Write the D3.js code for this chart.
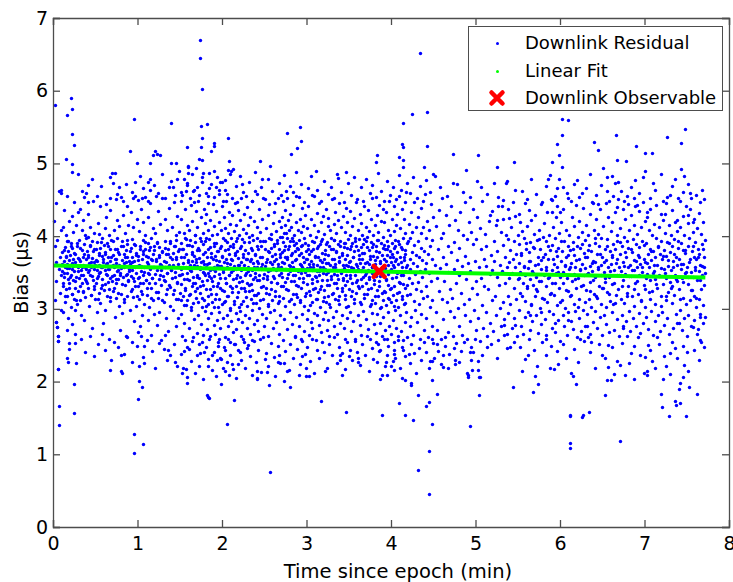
<!DOCTYPE html>
<html>
<head>
<meta charset="utf-8">
<script src="https://cdn.jsdelivr.net/npm/d3@7"></script>
<style>
  body { margin: 0; background: #fff; }
  svg { display: block; }
  text { font-family: "DejaVu Sans", sans-serif; fill: #000; }
</style>
</head>
<body>
<svg id="chart" width="733" height="582"></svg>
<script>
// Downlink residual bias samples [time since epoch (min), bias (µs)]
const residualsEarly = [
[0.01,4.21],[0.02,3.87],[0.02,3.12],[0.03,3.64],[0.03,4.45],[0.04,2.82],[0.04,3.38],[0.05,2.75],[0.05,3.95],[0.06,2.63],[0.06,2.56],[0.06,2.17],[0.07,3.55],[0.07,4.62],[0.08,3.22],[0.08,3.71],[0.09,2.98],[0.09,4.08],[0.1,3.46],
[0.11,3.52],[0.11,3.78],[0.12,3.31],[0.12,4.12],[0.12,2.95],[0.13,3.66],[0.13,3.44],[0.13,4.36],[0.14,3.58],[0.14,3.09],[0.14,3.85],[0.15,3.27],[0.15,3.71],[0.15,4.02],[0.16,3.49],[0.16,2.71],[0.16,3.93],[0.17,3.62],[0.17,3.18],[0.17,4.55],[0.18,3.41],[0.18,3.80],[0.18,2.88],[0.19,3.56],[0.19,4.21],[0.19,3.35],[0.2,3.74],
[0.21,3.47],[0.21,3.91],[0.21,3.02],[0.22,3.63],[0.22,4.28],[0.22,3.21],[0.23,3.55],[0.23,3.84],[0.23,2.79],[0.24,3.39],[0.24,4.06],[0.24,3.68],[0.25,3.14],[0.25,3.52],[0.25,4.47],[0.26,3.76],[0.26,3.29],[0.26,2.98],[0.27,3.61],[0.27,4.15],[0.27,3.44],[0.28,3.87],[0.28,3.07],[0.29,3.58],[0.29,4.33],[0.29,3.25],[0.3,3.70],
[0.31,3.42],[0.31,3.95],[0.32,3.66],[0.32,3.12],[0.32,4.38],[0.33,3.54],[0.33,2.92],[0.34,3.81],[0.34,3.35],[0.34,4.09],[0.35,3.60],[0.35,3.23],[0.36,3.72],[0.36,4.22],[0.36,3.47],[0.37,2.84],[0.37,3.89],[0.38,3.57],[0.38,3.16],[0.38,4.01],[0.39,3.69],[0.39,3.38],[0.4,3.79],
[0.41,3.51],[0.41,3.99],[0.42,3.28],[0.42,3.74],[0.42,4.31],[0.43,3.63],[0.43,3.04],[0.44,3.46],[0.44,3.86],[0.44,4.12],[0.45,3.58],[0.45,3.19],[0.46,3.70],[0.46,2.73],[0.46,3.93],[0.47,3.40],[0.47,4.48],[0.48,3.65],[0.48,3.31],[0.48,3.82],[0.49,3.55],[0.49,4.05],[0.5,3.13],
[0.51,3.67],[0.51,3.36],[0.52,3.92],[0.52,3.54],[0.52,2.96],[0.53,4.18],[0.53,3.45],[0.54,3.77],[0.54,3.22],[0.54,3.61],[0.55,4.03],[0.55,3.49],[0.56,3.84],[0.56,3.08],[0.56,4.42],[0.57,3.57],[0.57,3.29],[0.58,3.73],[0.58,3.97],[0.58,3.41],[0.59,2.81],[0.59,3.64],[0.6,3.88],
[0.61,3.53],[0.61,4.11],[0.62,3.34],[0.62,3.76],[0.62,2.99],[0.63,3.62],[0.63,4.26],[0.64,3.47],[0.64,3.90],[0.64,3.18],[0.65,3.71],[0.65,3.55],[0.66,4.02],[0.66,3.27],[0.66,2.58],[0.67,3.66],[0.67,3.83],[0.68,3.43],[0.68,4.36],[0.68,3.11],[0.69,3.59],[0.69,3.95],[0.7,3.38],
[0.71,3.74],[0.71,3.25],[0.72,3.58],[0.72,4.08],[0.72,3.46],[0.73,2.89],[0.73,3.82],[0.74,3.63],[0.74,4.51],[0.74,3.35],[0.75,3.69],[0.75,3.15],[0.76,3.97],[0.76,3.52],[0.76,4.22],[0.77,3.41],[0.77,3.78],[0.78,3.04],[0.78,3.60],[0.78,4.14],[0.79,3.49],[0.79,2.71],[0.8,3.86],
[0.81,3.56],[0.81,3.21],[0.82,3.93],[0.82,3.67],[0.82,2.94],[0.83,4.29],[0.83,3.44],[0.84,3.75],[0.84,3.09],[0.84,3.58],[0.85,4.05],[0.85,3.33],[0.86,3.81],[0.86,2.62],[0.86,3.64],[0.87,4.41],[0.87,3.48],[0.88,3.18],[0.88,3.89],[0.88,3.71],[0.89,3.39],[0.89,4.16],[0.9,3.55],
[0.91,3.62],[0.91,2.98],[0.92,3.84],[0.92,3.45],[0.92,4.33],[0.93,3.27],[0.93,3.71],[0.94,2.54],[0.94,3.96],[0.94,3.53],[0.95,3.16],[0.95,4.12],[0.96,3.66],[0.96,3.38],[0.96,2.83],[0.97,3.88],[0.97,4.55],[0.98,3.49],[0.98,3.04],[0.98,3.77],[0.99,3.59],[0.99,4.24],[1.0,3.31],[1.0,2.68],
[1.01,3.73],[1.01,3.42],[1.02,4.07],[1.02,3.14],[1.02,3.61],[1.03,2.76],[1.03,3.87],[1.04,3.52],[1.04,4.38],[1.04,3.25],[1.05,3.68],[1.05,2.91],[1.06,3.95],[1.06,3.46],[1.06,4.19],[1.07,3.35],[1.07,3.79],[1.08,3.07],[1.08,3.57],[1.08,2.49],[1.09,3.83],[1.09,4.02],[1.1,3.39],
[1.11,3.64],[1.11,3.19],[1.12,3.91],[1.12,3.50],[1.12,2.85],[1.13,4.27],[1.13,3.72],[1.14,3.36],[1.14,3.02],[1.14,3.81],[1.15,4.46],[1.15,3.55],[1.16,3.28],[1.16,3.98],[1.16,2.64],[1.17,3.67],[1.17,3.43],[1.18,4.11],[1.18,3.12],[1.18,3.76],[1.19,3.58],[1.19,2.93],[1.2,3.86],
[1.21,3.48],[1.21,4.04],[1.22,3.23],[1.22,3.69],[1.23,2.78],[1.23,3.92],[1.24,3.57],[1.24,4.34],[1.24,3.15],[1.25,3.74],[1.25,3.41],[1.26,2.96],[1.26,3.85],[1.27,3.62],[1.27,4.17],[1.28,3.33],[1.28,3.53],[1.28,2.57],[1.29,3.79],[1.29,4.52],[1.3,3.45],
[1.31,3.66],[1.31,3.09],[1.32,3.94],[1.32,3.38],[1.33,4.23],[1.33,3.57],[1.34,2.87],[1.34,3.75],[1.34,3.21],[1.35,4.08],[1.35,3.49],[1.36,3.83],[1.36,2.69],[1.37,3.61],[1.37,4.39],[1.38,3.30],[1.38,3.72],[1.39,3.04],[1.39,3.90],[1.4,3.54],
[1.41,3.42],[1.41,4.13],[1.42,3.77],[1.42,2.99],[1.42,3.59],[1.43,4.47],[1.43,3.26],[1.44,3.86],[1.44,3.51],[1.45,2.77],[1.45,4.01],[1.45,3.68],[1.46,3.14],[1.46,3.95],[1.47,3.37],[1.47,4.28],[1.48,3.62],[1.48,2.88],[1.48,3.80],[1.49,3.47],[1.49,4.06],[1.5,3.22]
];

const residualsMid = [
[1.51,3.55],[1.51,3.91],[1.51,2.93],[1.52,3.34],[1.52,4.24],[1.52,3.71],[1.53,2.62],[1.53,3.48],[1.53,4.57],[1.54,3.82],[1.54,3.17],[1.54,3.63],[1.55,4.05],[1.55,2.81],[1.55,3.41],[1.56,3.97],[1.56,3.26],[1.56,4.38],[1.57,3.58],[1.57,3.05],[1.57,3.76],[1.58,2.47],[1.58,4.16],[1.58,3.50],[1.59,3.88],[1.59,3.12],[1.59,4.71],[1.6,3.67],
[1.61,3.39],[1.61,4.09],[1.61,2.74],[1.62,3.61],[1.62,3.95],[1.62,3.20],[1.63,4.43],[1.63,3.52],[1.63,2.98],[1.64,3.78],[1.64,3.31],[1.64,4.21],[1.65,3.66],[1.65,2.56],[1.65,3.87],[1.66,3.44],[1.66,4.62],[1.66,3.08],[1.67,3.73],[1.67,3.57],[1.67,2.86],[1.68,4.02],[1.68,3.36],[1.68,3.92],[1.69,3.15],[1.69,4.34],[1.69,3.64],[1.7,2.67],[1.7,3.81],[1.7,3.47],
[1.71,4.12],[1.71,3.28],[1.71,3.59],[1.72,2.91],[1.72,3.84],[1.72,4.49],[1.73,3.42],[1.73,3.70],[1.73,2.52],[1.74,3.97],[1.74,3.22],[1.74,3.55],[1.75,4.27],[1.75,2.79],[1.75,3.65],[1.76,3.38],[1.76,4.74],[1.76,3.03],[1.77,3.89],[1.77,3.51],[1.77,4.05],[1.78,2.64],[1.78,3.33],[1.78,3.76],[1.79,4.38],[1.79,3.12],[1.79,3.62],[1.8,2.97],[1.8,3.93],[1.8,3.46],[1.8,4.18],[1.79,2.41],
[1.81,3.58],[1.81,3.04],[1.81,4.31],[1.82,3.71],[1.82,2.72],[1.82,3.39],[1.83,4.08],[1.83,3.49],[1.83,2.88],[1.84,3.83],[1.84,3.17],[1.84,4.55],[1.85,3.63],[1.85,2.59],[1.85,3.96],[1.86,3.27],[1.86,3.54],[1.86,4.22],[1.87,2.94],[1.87,3.77],[1.87,3.42],[1.88,4.01],[1.88,3.09],[1.88,2.36],[1.89,3.68],[1.89,4.44],[1.89,3.31],[1.9,3.86],[1.9,2.78],[1.9,3.57],[1.85,4.66],[1.83,2.21],
[1.91,3.45],[1.91,4.14],[1.91,3.02],[1.92,3.73],[1.92,2.65],[1.92,3.52],[1.93,4.35],[1.93,3.21],[1.93,3.90],[1.94,2.84],[1.94,3.61],[1.94,4.03],[1.95,3.36],[1.95,2.49],[1.95,3.79],[1.96,4.58],[1.96,3.13],[1.96,3.66],[1.97,2.96],[1.97,3.48],[1.97,4.20],[1.98,3.84],[1.98,2.73],[1.98,3.29],[1.99,3.59],[1.99,4.09],[1.99,2.31],[2.0,3.71],[2.0,3.06],[2.0,4.42],[1.96,2.58],[1.93,4.68],
[2.01,3.54],[2.01,2.87],[2.01,3.97],[2.02,3.25],[2.02,4.26],[2.02,3.64],[2.03,2.61],[2.03,3.43],[2.03,3.81],[2.04,4.11],[2.04,3.11],[2.04,2.44],[2.05,3.69],[2.05,3.35],[2.05,4.49],[2.06,2.92],[2.06,3.58],[2.06,3.92],[2.07,3.18],[2.07,4.04],[2.07,2.76],[2.08,3.76],[2.08,3.47],[2.08,4.33],[2.09,2.99],[2.09,3.62],[2.09,2.54],[2.1,3.87],[2.1,3.31],[2.1,4.17],[2.04,4.63],[2.06,2.27],
[2.11,3.51],[2.11,2.83],[2.11,3.98],[2.12,3.23],[2.12,3.67],[2.12,4.29],[2.13,2.68],[2.13,3.41],[2.13,3.85],[2.14,3.07],[2.14,4.07],[2.14,3.59],[2.15,2.51],[2.15,3.74],[2.15,4.46],[2.16,3.32],[2.16,2.94],[2.16,3.93],[2.17,3.55],[2.17,4.15],[2.17,2.72],[2.18,3.80],[2.18,3.16],[2.18,3.47],[2.19,4.36],[2.19,2.86],[2.19,3.70],[2.2,3.02],[2.2,3.61],[2.2,4.01],
[2.21,3.44],[2.21,2.97],[2.21,4.22],[2.22,3.65],[2.22,2.63],[2.22,3.86],[2.23,3.29],[2.23,4.53],[2.23,3.53],[2.24,2.82],[2.24,3.96],[2.24,3.38],[2.25,4.10],[2.25,3.11],[2.25,3.72],[2.26,2.55],[2.26,3.60],[2.26,4.31],[2.27,3.24],[2.27,3.81],[2.27,2.91],[2.28,3.49],[2.28,4.04],[2.28,3.68],[2.29,3.04],[2.29,4.40],[2.29,3.36],[2.3,2.74],
[2.31,3.77],[2.31,3.57],[2.31,4.16],[2.32,2.88],[2.32,3.33],[2.32,3.92],[2.33,3.46],[2.33,2.66],[2.33,4.27],[2.34,3.69],[2.34,3.13],[2.34,3.84],[2.35,4.48],[2.35,2.99],[2.35,3.54],[2.36,3.26],[2.36,4.01],[2.36,2.57],[2.37,3.63],[2.37,3.41],[2.37,3.95],[2.38,2.79],[2.38,4.21],[2.38,3.19],[2.39,3.75],[2.39,3.50],[2.39,4.62],[2.4,3.08],
[2.41,3.66],[2.41,3.98],[2.41,2.84],[2.42,3.39],[2.42,4.13],[2.42,3.58],[2.43,2.69],[2.43,3.82],[2.43,3.22],[2.44,4.37],[2.44,3.47],[2.44,3.01],[2.45,3.71],[2.45,4.06],[2.45,2.59],[2.46,3.30],[2.46,3.87],[2.46,3.55],[2.47,4.24],[2.47,2.93],[2.47,3.62],[2.48,3.14],[2.48,3.94],[2.49,3.43],[2.49,4.52],[2.5,2.76],
[2.51,3.59],[2.51,3.93],[2.52,3.28],[2.52,4.11],[2.52,2.87],[2.53,3.68],[2.53,3.45],[2.54,4.29],[2.54,3.06],[2.54,3.79],[2.55,2.63],[2.55,3.52],[2.56,3.97],[2.56,3.21],[2.56,4.44],[2.57,3.64],[2.57,2.95],[2.58,3.84],[2.58,3.37],[2.58,4.03],[2.59,3.12],[2.59,3.73],[2.6,2.74],[2.6,3.56],[2.6,4.18],
[2.61,3.42],[2.61,3.89],[2.62,2.99],[2.62,3.66],[2.62,4.33],[2.63,3.25],[2.63,3.76],[2.64,2.82],[2.64,4.07],[2.64,3.53],[2.65,3.35],[2.65,3.95],[2.66,4.52],[2.66,3.08],[2.66,3.62],[2.67,2.66],[2.67,3.83],[2.68,3.47],[2.68,4.21],[2.68,3.17],[2.69,3.72],[2.69,3.99],[2.69,2.91],[2.7,3.58],[2.7,4.12],[2.7,3.31],
[2.71,3.78],[2.71,4.26],[2.71,3.44],[2.72,3.92],[2.72,3.15],[2.72,4.48],[2.73,3.63],[2.73,2.86],[2.73,4.05],[2.74,3.71],[2.74,3.37],[2.74,4.36],[2.75,3.86],[2.75,3.04],[2.75,4.15],[2.76,3.55],[2.76,4.62],[2.76,3.27],[2.77,3.97],[2.77,3.69],[2.77,2.72],[2.78,4.22],[2.78,3.48],[2.78,3.83],[2.79,3.11],[2.79,4.09],[2.79,3.60],[2.8,3.93],
[2.81,3.52],[2.81,4.31],[2.81,2.96],[2.82,3.74],[2.82,3.38],[2.82,4.12],[2.83,3.65],[2.83,2.79],[2.83,3.98],[2.84,3.21],[2.84,4.43],[2.84,3.57],[2.85,3.88],[2.85,3.07],[2.85,4.02],[2.86,3.46],[2.86,2.61],[2.86,3.79],[2.87,4.19],[2.87,3.33],[2.87,3.68],[2.88,2.89],[2.88,3.91],[2.88,4.55],[2.89,3.54],[2.89,3.16],[2.9,3.82],[2.9,4.08],
[2.91,3.43],[2.91,2.77],[2.91,3.95],[2.92,3.62],[2.92,4.24],[2.92,3.12],[2.93,3.77],[2.93,3.49],[2.93,2.58],[2.94,4.06],[2.94,3.29],[2.94,3.86],[2.95,3.58],[2.95,4.39],[2.95,2.93],[2.96,3.71],[2.96,3.37],[2.96,4.14],[2.97,3.04],[2.97,3.64],[2.97,2.69],[2.98,3.91],[2.98,3.51],[2.98,4.29],[2.99,3.22],[2.99,3.80],[3.0,2.86],[3.0,3.56]
];

const residualsLate = [
[3.01,4.11],[3.01,3.34],[3.01,3.69],[3.02,2.98],[3.02,3.88],[3.02,4.41],[3.03,3.47],[3.03,2.64],[3.03,3.76],[3.04,3.19],[3.04,4.02],[3.04,3.58],[3.05,2.82],[3.05,3.66],[3.05,4.23],[3.06,3.41],[3.06,3.94],[3.06,3.09],[3.07,3.53],[3.07,4.57],[3.07,2.73],[3.08,3.82],[3.08,3.27],[3.08,3.62],[3.09,4.16],[3.09,2.94],[3.1,3.73],[3.1,3.45],
[3.11,3.99],[3.11,3.14],[3.11,2.57],[3.12,3.61],[3.12,4.32],[3.12,3.38],[3.13,3.84],[3.13,2.91],[3.13,3.52],[3.14,4.07],[3.14,3.23],[3.14,3.71],[3.15,2.78],[3.15,3.46],[3.15,4.46],[3.16,3.89],[3.16,3.02],[3.16,3.57],[3.17,4.19],[3.17,3.31],[3.17,2.68],[3.18,3.77],[3.18,3.64],[3.18,3.96],[3.19,3.11],[3.19,4.28],[3.2,3.49],[3.2,2.86],
[3.21,3.68],[3.21,4.03],[3.21,3.26],[3.22,2.95],[3.22,3.81],[3.22,3.55],[3.23,4.37],[3.23,3.09],[3.23,3.63],[3.24,2.71],[3.24,3.92],[3.24,3.40],[3.25,4.14],[3.25,3.17],[3.25,3.74],[3.26,2.84],[3.26,3.51],[3.26,4.25],[3.27,3.33],[3.27,3.86],[3.27,2.62],[3.28,3.60],[3.28,4.08],[3.28,3.03],[3.29,3.45],[3.29,3.97],[3.3,3.21],[3.3,4.51],
[3.31,3.57],[3.31,2.89],[3.31,3.83],[3.32,3.36],[3.32,4.17],[3.32,3.68],[3.33,2.76],[3.33,3.48],[3.33,3.95],[3.34,3.13],[3.34,4.33],[3.34,3.62],[3.35,2.97],[3.35,3.79],[3.35,4.04],[3.36,3.29],[3.36,3.54],[3.36,2.65],[3.37,3.89],[3.37,4.22],[3.37,3.41],[3.38,3.06],[3.38,3.72],[3.38,4.45],[3.39,3.18],[3.39,3.65],[3.4,2.81],[3.4,3.93],
[3.41,3.50],[3.41,4.12],[3.42,3.24],[3.42,3.77],[3.42,2.92],[3.43,3.61],[3.43,4.28],[3.43,3.39],[3.44,2.74],[3.44,3.85],[3.44,3.56],[3.45,4.06],[3.45,3.14],[3.45,3.68],[3.46,2.59],[3.46,3.91],[3.46,3.33],[3.47,4.39],[3.47,3.47],[3.47,3.02],[3.48,3.74],[3.48,4.19],[3.48,2.87],[3.49,3.59],[3.49,3.96],[3.5,3.27],
[3.51,3.66],[3.51,4.02],[3.51,2.95],[3.52,3.43],[3.52,3.82],[3.52,4.34],[3.53,3.17],[3.53,3.58],[3.53,2.69],[3.54,3.91],[3.54,3.35],[3.54,4.14],[3.55,3.71],[3.55,2.83],[3.55,3.52],[3.56,4.25],[3.56,3.08],[3.56,3.79],[3.57,3.46],[3.57,3.98],[3.57,2.56],[3.58,3.62],[3.58,4.47],[3.58,3.22],[3.59,3.87],[3.6,3.39],
[3.61,3.55],[3.61,2.91],[3.61,4.09],[3.62,3.74],[3.62,3.28],[3.62,3.96],[3.63,2.78],[3.63,3.63],[3.63,4.31],[3.64,3.41],[3.64,3.85],[3.64,3.07],[3.65,4.18],[3.65,3.52],[3.65,2.64],[3.66,3.69],[3.66,4.02],[3.66,3.31],[3.67,3.89],[3.67,2.97],[3.67,3.58],[3.68,4.41],[3.68,3.15],[3.68,3.77],[3.69,3.46],[3.7,3.93],
[3.71,3.36],[3.71,4.13],[3.71,2.86],[3.72,3.64],[3.72,3.99],[3.72,3.21],[3.73,4.36],[3.73,3.53],[3.73,2.72],[3.74,3.81],[3.74,3.44],[3.74,4.07],[3.75,3.04],[3.75,3.68],[3.75,2.58],[3.76,3.92],[3.76,3.29],[3.76,4.24],[3.77,3.57],[3.77,3.85],[3.77,2.94],[3.78,3.49],[3.78,4.52],[3.78,3.12],[3.79,3.73],[3.79,4.01],[3.8,3.39],[3.8,2.79],
[3.81,3.62],[3.81,4.15],[3.81,3.08],[3.82,3.87],[3.82,2.67],[3.82,3.45],[3.83,4.29],[3.83,3.26],[3.83,3.71],[3.84,2.93],[3.84,3.95],[3.84,3.54],[3.85,4.06],[3.85,3.17],[3.85,2.52],[3.86,3.78],[3.86,3.38],[3.86,4.43],[3.87,3.01],[3.87,3.66],[3.87,2.81],[3.88,3.91],[3.88,3.49],[3.88,4.21],[3.89,3.22],[3.89,3.58],[3.89,2.62],[3.9,3.84],[3.9,3.12],[3.9,4.37],
[3.91,3.47],[3.91,2.89],[3.91,3.99],[3.92,3.68],[3.92,3.24],[3.92,4.19],[3.93,2.71],[3.93,3.56],[3.93,3.82],[3.94,3.05],[3.94,4.33],[3.94,3.41],[3.95,3.74],[3.95,2.58],[3.95,3.93],[3.96,3.15],[3.96,4.08],[3.96,3.61],[3.97,2.96],[3.97,3.87],[3.97,3.33],[3.98,4.49],[3.98,3.52],[3.98,2.77],[3.99,3.79],[3.99,3.27],[3.99,4.02],[4.0,2.66],[4.0,3.64],[4.0,3.09],
[4.01,3.91],[4.01,3.42],[4.01,4.24],[4.02,2.84],[4.02,3.71],[4.02,3.19],[4.03,4.07],[4.03,3.57],[4.03,2.54],[4.04,3.84],[4.04,3.31],[4.04,4.42],[4.05,2.98],[4.05,3.66],[4.05,3.95],[4.06,3.12],[4.06,4.16],[4.06,2.73],[4.07,3.49],[4.07,3.78],[4.07,4.31],[4.08,3.03],[4.08,3.62],[4.08,2.63],[4.09,3.89],[4.09,3.37],[4.1,4.55],[4.1,3.23],
[4.11,3.72],[4.11,2.91],[4.11,4.11],[4.12,3.46],[4.12,3.85],[4.12,2.69],[4.13,3.58],[4.13,4.38],[4.13,3.14],[4.14,3.97],[4.14,3.34],[4.14,2.57],[4.15,3.67],[4.15,4.23],[4.15,3.06],[4.16,3.81],[4.16,3.52],[4.16,2.82],[4.17,4.04],[4.17,3.28],[4.17,3.75],[4.18,4.61],[4.18,2.96],[4.19,3.61],[4.19,3.19],[4.2,3.94],
[4.21,3.43],[4.21,4.17],[4.22,2.76],[4.22,3.69],[4.22,3.97],[4.23,3.21],[4.23,3.55],[4.24,4.33],[4.24,2.89],[4.25,3.78],[4.25,3.36],[4.25,4.06],[4.26,2.64],[4.26,3.63],[4.27,3.11],[4.27,3.88],[4.27,4.47],[4.28,3.48],[4.28,2.98],[4.29,3.74],[4.29,4.12],[4.3,3.27],
[4.31,3.59],[4.31,2.82],[4.32,3.93],[4.32,3.37],[4.32,4.26],[4.33,3.07],[4.33,3.71],[4.34,2.59],[4.34,3.52],[4.35,4.04],[4.35,3.24],[4.35,3.84],[4.36,2.93],[4.36,4.39],[4.37,3.44],[4.37,3.67],[4.38,3.15],[4.38,4.13],[4.39,2.71],[4.39,3.79],[4.4,3.55],[4.4,4.58],
[4.41,3.32],[4.41,3.98],[4.42,2.87],[4.42,3.63],[4.43,4.21],[4.43,3.18],[4.44,3.76],[4.44,2.61],[4.45,3.49],[4.45,4.08],[4.46,3.02],[4.46,3.87],[4.47,4.44],[4.47,3.38],[4.48,2.76],[4.48,3.69],[4.49,3.95],[4.49,3.12],[4.5,4.27],[4.5,2.53]
];

const residualsSparse = [
[4.52,3.61],[4.53,2.95],[4.53,4.14],[4.54,3.42],[4.55,2.71],[4.56,3.83],[4.57,3.24],[4.57,4.36],[4.58,3.56],[4.59,2.58],[4.59,3.97],[4.6,3.13],[4.6,4.52],[4.56,2.42],
[4.61,3.71],[4.62,2.86],[4.62,4.05],[4.63,3.38],[4.64,2.49],[4.65,3.62],[4.65,4.29],[4.66,3.09],[4.67,3.87],[4.68,2.68],[4.68,3.51],[4.69,4.16],[4.7,3.27],[4.7,2.97],
[4.71,3.78],[4.71,4.41],[4.72,3.15],[4.73,2.62],[4.74,3.55],[4.74,3.92],[4.75,2.89],[4.76,4.22],[4.77,3.36],[4.77,2.53],[4.78,3.67],[4.79,4.08],[4.79,3.01],[4.8,3.46],
[4.81,2.77],[4.81,3.84],[4.82,4.33],[4.83,3.22],[4.84,3.59],[4.84,2.64],[4.85,4.01],[4.86,3.07],[4.87,3.73],[4.87,4.47],[4.88,2.91],[4.89,3.41],[4.9,3.96],[4.9,2.58],
[4.91,3.63],[4.92,4.19],[4.92,3.14],[4.93,2.83],[4.94,3.52],[4.95,4.06],[4.95,2.47],[4.96,3.29],[4.97,3.89],[4.97,4.38],[4.98,2.99],[4.99,3.66],[5.0,3.38],[5.0,2.71],
[5.01,3.96],[5.02,3.21],[5.02,4.27],[5.03,2.88],[5.04,3.57],[5.05,4.11],[5.05,2.56],[5.06,3.43],[5.07,3.82],[5.08,3.05],[5.08,4.49],[5.09,2.74],[5.1,3.68],[5.1,3.31],
[5.11,4.03],[5.12,2.96],[5.13,3.59],[5.13,3.86],[5.14,2.63],[5.15,3.27],[5.16,4.21],[5.17,3.48],[5.17,2.81],[5.18,3.74],[5.19,3.12],[5.2,4.35],[5.2,3.53],
[5.21,2.69],[5.22,3.66],[5.22,3.93],[5.23,3.18],[5.24,4.15],[5.24,2.92],[5.25,3.44],[5.26,3.79],[5.27,2.57],[5.27,4.42],[5.28,3.33],[5.29,3.61],[5.29,3.01],[5.3,4.06],[5.3,2.77],
[5.31,3.52],[5.32,3.88],[5.32,3.09],[5.33,4.24],[5.34,2.86],[5.35,3.71],[5.35,3.36],[5.36,4.01],[5.37,2.65],[5.37,3.58],[5.38,3.96],[5.38,3.17],[5.39,4.37],[5.39,2.94],[5.4,3.64],[5.4,3.42],
[5.41,3.81],[5.41,3.06],[5.42,4.12],[5.43,3.49],[5.43,2.73],[5.44,3.69],[5.45,3.28],[5.45,3.93],[5.46,2.87],[5.47,4.28],[5.47,3.57],[5.48,3.14],[5.48,3.76],[5.49,2.62],[5.5,4.02],[5.5,3.41]
];

const residualsTail = [
[5.51,3.63],[5.51,2.98],[5.52,3.89],[5.52,4.31],[5.53,3.22],[5.53,3.51],[5.54,2.76],[5.54,3.74],[5.55,4.07],[5.56,3.36],[5.56,2.66],[5.57,3.59],[5.57,3.97],[5.58,3.11],[5.58,4.45],[5.59,3.47],[5.59,2.89],[5.6,3.82],
[5.61,3.28],[5.61,4.14],[5.62,3.56],[5.62,2.95],[5.63,3.78],[5.63,4.36],[5.64,3.41],[5.64,2.71],[5.65,3.66],[5.65,3.92],[5.66,3.06],[5.66,4.22],[5.67,3.52],[5.67,2.83],[5.68,3.85],[5.68,3.33],[5.69,4.03],[5.7,3.17],
[5.71,3.61],[5.71,4.29],[5.72,2.91],[5.72,3.44],[5.73,3.95],[5.73,3.24],[5.74,2.67],[5.74,3.72],[5.75,4.09],[5.75,3.38],[5.76,3.01],[5.76,3.83],[5.77,4.44],[5.77,3.55],[5.78,2.79],[5.78,3.67],[5.79,3.15],[5.8,3.99],
[5.81,3.47],[5.81,4.18],[5.82,2.86],[5.82,3.76],[5.83,3.31],[5.83,3.93],[5.84,2.59],[5.84,3.58],[5.85,4.33],[5.85,3.09],[5.86,3.69],[5.86,3.42],[5.87,4.02],[5.87,2.97],[5.88,3.81],[5.88,3.21],[5.89,4.51],[5.9,3.54],[5.9,2.74],
[5.91,3.88],[5.91,3.35],[5.92,4.13],[5.92,2.93],[5.93,3.62],[5.93,3.19],[5.94,3.97],[5.94,2.68],[5.95,3.49],[5.95,4.26],[5.96,3.73],[5.96,3.05],[5.97,3.57],[5.97,4.41],[5.98,2.84],[5.98,3.84],[5.99,3.28],[5.99,4.04],[6.0,3.44],[6.0,2.56],
[6.01,3.66],[6.01,4.19],[6.02,3.12],[6.02,3.79],[6.03,2.91],[6.03,3.51],[6.04,4.37],[6.04,3.36],[6.05,2.77],[6.05,3.94],[6.06,3.59],[6.06,3.01],[6.07,4.08],[6.07,3.71],[6.08,2.64],[6.08,3.43],[6.09,3.86],[6.09,4.53],[6.1,3.24],[6.1,2.95],
[6.11,3.55],[6.11,4.02],[6.12,3.17],[6.12,3.81],[6.13,2.83],[6.13,3.63],[6.14,4.27],[6.14,3.38],[6.15,2.72],[6.15,3.92],[6.16,3.48],[6.16,3.07],[6.17,4.14],[6.17,3.74],[6.18,2.97],[6.18,3.58],[6.19,4.43],[6.19,3.29],[6.2,3.87],[6.2,2.61],
[6.21,3.42],[6.21,3.99],[6.22,3.14],[6.22,3.69],[6.23,4.21],[6.23,2.88],[6.24,3.53],[6.24,3.84],[6.25,2.69],[6.25,3.31],[6.26,4.06],[6.26,3.62],[6.27,2.99],[6.27,4.39],[6.28,3.46],[6.28,3.77],[6.29,3.09],[6.29,2.77],[6.3,3.95],[6.3,3.56],
[6.31,4.16],[6.31,3.26],[6.32,3.71],[6.32,2.93],[6.33,3.49],[6.33,4.02],[6.34,3.13],[6.34,3.88],[6.35,2.66],[6.35,3.59],[6.36,4.31],[6.36,3.37],[6.37,3.03],[6.37,3.79],[6.38,4.47],[6.38,3.52],[6.39,2.82],[6.39,3.66],[6.4,3.21],[6.4,4.09],
[6.41,3.44],[6.41,3.91],[6.42,2.97],[6.42,3.64],[6.43,4.24],[6.43,3.18],[6.44,3.76],[6.44,2.73],[6.45,3.55],[6.45,4.03],[6.46,3.32],[6.46,3.86],[6.47,2.89],[6.47,4.38],[6.48,3.61],[6.48,3.07],[6.49,3.98],[6.49,3.47],[6.5,2.64],[6.5,3.72],
[6.51,3.28],[6.51,4.14],[6.52,3.51],[6.52,2.91],[6.53,3.83],[6.53,3.37],[6.54,4.46],[6.54,3.02],[6.55,3.67],[6.55,2.79],[6.56,3.96],[6.56,3.23],[6.57,3.58],[6.57,4.27],[6.58,2.68],[6.58,3.44],[6.59,3.79],[6.59,3.11],[6.6,4.07],[6.6,3.62],
[6.61,2.95],[6.61,3.71],[6.62,4.19],[6.62,3.34],[6.63,3.89],[6.63,3.06],[6.64,2.71],[6.64,3.54],[6.65,4.33],[6.65,3.82],[6.66,3.19],[6.66,3.63],[6.67,2.86],[6.67,4.02],[6.68,3.47],[6.68,3.94],[6.69,3.27],[6.69,4.51],[6.7,3.58],[6.7,2.62],
[6.71,3.76],[6.71,4.11],[6.72,3.13],[6.72,3.52],[6.73,2.92],[6.73,3.87],[6.74,4.37],[6.74,3.39],[6.75,2.74],[6.75,3.65],[6.76,3.99],[6.76,3.08],[6.77,3.48],[6.77,4.23],[6.78,2.83],[6.78,3.71],[6.79,3.22],[6.79,3.93],[6.8,4.44],[6.8,3.57],
[6.81,3.31],[6.81,3.84],[6.82,2.97],[6.82,4.08],[6.83,3.61],[6.83,2.69],[6.84,3.45],[6.84,4.29],[6.85,3.17],[6.85,3.78],[6.86,2.88],[6.86,3.96],[6.87,3.53],[6.87,4.16],[6.88,3.04],[6.88,3.67],[6.89,4.41],[6.89,3.36],[6.9,2.76],[6.9,3.89],
[6.91,3.58],[6.91,4.03],[6.92,3.21],[6.92,3.74],[6.93,2.94],[6.93,4.34],[6.94,3.46],[6.94,3.85],[6.95,2.67],[6.95,3.62],[6.96,4.12],[6.96,3.11],[6.97,3.51],[6.97,3.94],[6.98,2.81],[6.98,4.47],[6.99,3.33],[6.99,3.69],[7.0,3.02],[7.0,4.21],
[7.01,3.64],[7.01,3.27],[7.02,3.91],[7.02,2.89],[7.03,4.26],[7.03,3.48],[7.04,3.76],[7.04,2.72],[7.05,3.57],[7.05,4.09],[7.06,3.14],[7.06,3.83],[7.07,4.38],[7.07,3.39],[7.08,2.97],[7.08,3.67],[7.09,4.02],[7.09,3.24],[7.1,2.64],[7.1,3.79],
[7.11,3.52],[7.11,4.17],[7.12,3.06],[7.12,3.72],[7.13,3.41],[7.13,2.83],[7.14,3.97],[7.14,4.43],[7.15,3.29],[7.15,3.61],[7.16,2.92],[7.16,3.86],[7.17,4.13],[7.17,3.45],[7.18,2.69],[7.18,3.76],[7.19,3.18],[7.19,4.31],[7.2,3.56],[7.2,3.93],
[7.21,2.96],[7.21,3.68],[7.22,4.22],[7.22,3.34],[7.23,3.81],[7.23,2.78],[7.24,3.49],[7.24,4.04],[7.25,3.12],[7.25,3.73],[7.26,4.46],[7.26,3.42],[7.27,2.87],[7.27,3.92],[7.28,3.59],[7.28,3.23],[7.29,4.15],[7.29,2.66],[7.3,3.78],[7.3,3.37],
[7.31,4.01],[7.31,3.54],[7.32,3.08],[7.32,3.87],[7.33,4.36],[7.33,3.31],[7.34,2.74],[7.34,3.66],[7.35,3.96],[7.35,3.19],[7.36,3.47],[7.36,4.19],[7.37,2.93],[7.37,3.72],[7.38,3.38],[7.38,4.07],[7.39,2.81],[7.39,3.61],[7.4,3.84],[7.4,4.52],
[7.41,3.27],[7.41,3.69],[7.42,4.13],[7.42,2.99],[7.43,3.55],[7.43,3.91],[7.44,2.71],[7.44,3.43],[7.45,4.28],[7.45,3.81],[7.46,3.15],[7.46,3.62],[7.47,2.87],[7.47,4.02],[7.48,3.49],[7.48,3.77],[7.49,4.41],[7.49,3.06],[7.5,3.58],[7.5,2.63],
[7.51,3.86],[7.51,3.34],[7.52,4.18],[7.52,2.91],[7.53,3.64],[7.53,3.97],[7.54,3.12],[7.54,4.37],[7.55,3.51],[7.55,2.76],[7.56,3.79],[7.56,3.26],[7.57,4.06],[7.57,3.44],[7.58,2.84],[7.58,3.71],[7.59,4.24],[7.59,3.18],[7.6,3.57],[7.6,3.92],
[7.61,3.03],[7.61,3.68],[7.62,4.11],[7.62,3.39],[7.63,2.72],[7.63,3.83],[7.64,3.52],[7.64,4.32],[7.65,3.14],[7.65,3.76],[7.66,2.93],[7.66,3.61],[7.67,4.03],[7.67,3.27],[7.68,3.89],[7.68,3.46],[7.69,4.19],[7.69,2.81],[7.7,3.58],[7.7,3.71],[7.71,3.33],[7.72,3.95],[7.72,3.49]
];

// Samples packed close to the fit line
const residualsCore = [
[0.105,3.62],[0.115,3.35],[0.125,3.81],[0.135,3.49],[0.145,3.17],[0.155,3.73],[0.165,3.56],[0.175,3.94],[0.185,3.28],[0.195,3.67],
[0.205,3.44],[0.215,3.86],[0.225,3.21],[0.235,3.59],[0.245,3.77],[0.255,3.38],[0.265,3.65],[0.275,3.12],[0.285,3.91],[0.295,3.52],
[0.305,3.69],[0.315,3.31],[0.325,3.84],[0.335,3.47],[0.345,3.58],[0.355,3.24],[0.365,3.76],[0.375,3.41],[0.385,3.97],[0.395,3.55],
[0.405,3.36],[0.415,3.71],[0.425,3.53],[0.435,3.88],[0.445,3.19],[0.455,3.64],[0.465,3.45],[0.475,3.79],[0.485,3.27],[0.495,3.61],
[0.505,3.83],[0.515,3.42],[0.525,3.66],[0.535,3.14],[0.545,3.74],[0.555,3.51],[0.565,3.92],[0.575,3.33],[0.585,3.57],[0.595,3.69],
[0.605,3.26],[0.615,3.78],[0.625,3.48],[0.635,3.63],[0.645,3.87],[0.655,3.37],[0.665,3.55],[0.675,3.16],[0.685,3.72],[0.695,3.45],
[0.705,3.61],[0.715,3.93],[0.725,3.29],[0.735,3.68],[0.745,3.41],[0.755,3.82],[0.765,3.54],[0.775,3.22],[0.785,3.75],[0.795,3.47],
[0.805,3.58],[0.815,3.34],[0.825,3.86],[0.835,3.63],[0.845,3.13],[0.855,3.71],[0.865,3.46],[0.875,3.95],[0.885,3.38],[0.895,3.66],
[0.905,3.52],[0.915,3.79],[0.925,3.25],[0.935,3.64],[0.945,3.43],[0.955,3.89],[0.965,3.31],[0.975,3.57],[0.985,3.74],[0.995,3.18],
[1.005,3.67],[1.015,3.44],[1.025,3.83],[1.035,3.36],[1.045,3.59],[1.055,3.21],[1.065,3.76],[1.075,3.51],[1.085,3.92],[1.095,3.39],
[1.105,3.73],[1.115,3.28],[1.125,3.62],[1.135,3.48],[1.145,3.85],[1.155,3.15],[1.165,3.69],[1.175,3.42],[1.185,3.58],[1.195,3.81],
[1.205,3.35],[1.215,3.66],[1.225,3.54],[1.235,3.91],[1.245,3.23],[1.255,3.72],[1.265,3.46],[1.275,3.61],[1.285,3.12],[1.295,3.78],
[1.305,3.57],[1.315,3.39],[1.325,3.84],[1.335,3.65],[1.345,3.27],[1.355,3.49],[1.365,3.76],[1.375,3.33],[1.385,3.94],[1.395,3.53],
[1.405,3.68],[1.415,3.21],[1.425,3.61],[1.435,3.87],[1.445,3.44],[1.455,3.71],[1.465,3.36],[1.475,3.58],[1.485,3.14],[1.495,3.82],
[1.505,3.47],[1.515,3.12],[1.525,3.83],[1.535,3.58],[1.545,3.05],[1.555,3.71],[1.565,3.29],[1.575,3.96],[1.585,3.41],[1.595,3.64],
[1.605,3.19],[1.615,3.88],[1.625,3.53],[1.635,3.02],[1.645,3.76],[1.655,3.35],[1.665,3.61],[1.675,4.02],[1.685,3.24],[1.695,3.69],
[1.705,3.44],[1.715,3.09],[1.725,3.81],[1.735,3.57],[1.745,3.31],[1.755,3.93],[1.765,3.15],[1.775,3.66],[1.785,3.49],[1.795,3.78],
[1.805,3.27],[1.815,3.98],[1.825,3.62],[1.835,3.07],[1.845,3.45],[1.855,3.85],[1.865,3.21],[1.875,3.72],[1.885,3.38],[1.895,3.55],
[1.905,3.91],[1.915,3.14],[1.925,3.67],[1.935,3.32],[1.945,3.79],[1.955,3.03],[1.965,3.59],[1.975,3.43],[1.985,3.87],[1.995,3.26],
[2.005,3.73],[2.015,3.51],[2.025,3.09],[2.035,3.95],[2.045,3.36],[2.055,3.63],[2.065,3.18],[2.075,3.82],[2.085,3.47],[2.095,3.01],
[2.105,3.68],[2.115,3.29],[2.125,3.89],[2.135,3.54],[2.145,3.11],[2.155,3.77],[2.165,3.42],[2.175,3.97],[2.185,3.23],[2.195,3.61],
[2.205,3.37],[2.215,3.84],[2.225,3.06],[2.235,3.56],[2.245,3.75],[2.255,3.28],[2.265,3.92],[2.275,3.46],[2.285,3.16],[2.295,3.69],
[2.305,3.52],[2.315,3.99],[2.325,3.25],[2.335,3.66],[2.345,3.34],[2.355,3.81],[2.365,3.08],[2.375,3.58],[2.385,3.44],[2.395,3.74],
[2.405,3.19],[2.415,3.87],[2.425,3.63],[2.435,3.39],[2.445,3.94],[2.455,3.12],[2.465,3.57],[2.475,3.71],[2.485,3.31],[2.495,3.48],
[2.505,3.83],[2.515,3.22],[2.525,3.65],[2.535,3.41],[2.545,3.04],[2.555,3.78],[2.565,3.53],[2.575,3.96],[2.585,3.27],[2.595,3.62],
[2.605,3.45],[2.615,3.86],[2.625,3.17],[2.635,3.69],[2.645,3.35],[2.655,3.91],[2.665,3.58],[2.675,3.11],[2.685,3.76],[2.695,3.49],
[2.705,3.64],[2.715,3.99],[2.725,3.32],[2.735,3.81],[2.745,3.55],[2.755,4.05],[2.765,3.43],[2.775,3.72],[2.785,3.26],[2.795,3.87],
[2.805,3.59],[2.815,3.14],[2.825,3.77],[2.835,3.46],[2.845,3.93],[2.855,3.38],[2.865,3.67],[2.875,3.21],[2.885,3.84],[2.895,3.52],
[2.905,3.31],[2.915,3.74],[2.925,3.09],[2.935,3.61],[2.945,3.88],[2.955,3.42],[2.965,3.55],[2.975,3.97],[2.985,3.18],[2.995,3.68],
[3.005,3.47],[3.015,3.83],[3.025,3.24],[3.035,3.62],[3.045,3.05],[3.055,3.79],[3.065,3.36],[3.075,3.57],[3.085,3.92],[3.095,3.29],
[3.105,3.71],[3.115,3.44],[3.125,3.13],[3.135,3.86],[3.145,3.52],[3.155,3.67],[3.165,3.27],[3.175,3.94],[3.185,3.39],[3.195,3.58],
[3.205,3.16],[3.215,3.76],[3.225,3.48],[3.235,3.89],[3.245,3.33],[3.255,3.63],[3.265,3.07],[3.275,3.54],[3.285,3.82],[3.295,3.41],
[3.305,3.69],[3.315,3.22],[3.325,3.95],[3.335,3.57],[3.345,3.35],[3.355,3.78],[3.365,3.46],[3.375,3.12],[3.385,3.66],[3.395,3.87],
[3.405,3.53],[3.415,3.28],[3.425,3.74],[3.435,3.43],[3.445,3.91],[3.455,3.19],[3.465,3.61],[3.475,3.38],[3.485,3.84],[3.495,3.04],
[3.505,3.65],[3.515,3.47],[3.525,3.86],[3.535,3.25],[3.545,3.72],[3.555,3.56],[3.565,3.14],[3.575,3.93],[3.585,3.37],[3.595,3.59],
[3.605,3.81],[3.615,3.32],[3.625,3.68],[3.635,3.09],[3.645,3.54],[3.655,3.77],[3.665,3.44],[3.675,3.96],[3.685,3.21],[3.695,3.63],
[3.705,3.49],[3.715,3.85],[3.725,3.27],[3.735,3.62],[3.745,3.41],[3.755,3.73],[3.765,3.06],[3.775,3.58],[3.785,3.89],[3.795,3.34],
[3.805,3.67],[3.815,3.18],[3.825,3.79],[3.835,3.52],[3.845,3.95],[3.855,3.31],[3.865,3.63],[3.875,3.45],[3.885,3.02],[3.895,3.74],
[3.905,3.57],[3.915,3.88],[3.925,3.23],[3.935,3.66],[3.945,3.39],[3.955,3.82],[3.965,3.48],[3.975,3.13],[3.985,3.71],[3.995,3.55],
[4.005,3.29],[4.015,3.76],[4.025,3.61],[4.035,3.04],[4.045,3.87],[4.055,3.44],[4.065,3.69],[4.075,3.22],[4.085,3.93],[4.095,3.51],
[4.105,3.36],[4.115,3.64],[4.125,3.17],[4.135,3.83],[4.145,3.47],[4.155,3.72],[4.165,3.08],[4.175,3.58],[4.185,3.91],[4.195,3.33],
[5.515,3.42],[5.535,3.77],[5.555,3.18],[5.575,3.58],[5.595,3.91],[5.615,3.31],[5.635,3.66],[5.655,3.05],[5.675,3.49],[5.695,3.84],
[5.715,3.27],[5.735,3.62],[5.755,3.96],[5.775,3.38],[5.795,3.71],[5.815,3.14],[5.835,3.53],[5.855,3.87],[5.875,3.44],[5.895,3.22],
[5.915,3.68],[5.935,3.35],[5.955,3.79],[5.975,3.51],[5.995,3.09],[6.015,3.93],[6.035,3.46],[6.055,3.61],[6.075,3.26],[6.095,3.74],
[6.115,3.57],[6.135,3.19],[6.155,3.83],[6.175,3.41],[6.195,3.67],[6.215,3.02],[6.235,3.55],[6.255,3.89],[6.275,3.33],[6.295,3.72],
[6.315,3.48],[6.335,3.81],[6.355,3.24],[6.375,3.63],[6.395,3.39],[6.415,3.97],[6.435,3.15],[6.455,3.58],[6.475,3.76],[6.495,3.29],
[6.515,3.64],[6.535,3.43],[6.555,3.86],[6.575,3.21],[6.595,3.52],[6.615,3.74],[6.635,3.36],[6.655,3.08],[6.675,3.69],[6.695,3.47],
[6.715,3.92],[6.735,3.31],[6.755,3.59],[6.775,3.78],[6.795,3.17],[6.815,3.45],[6.835,3.83],[6.855,3.54],[6.875,3.27],[6.895,3.66],
[6.915,3.38],[6.935,3.71],[6.955,3.12],[6.975,3.57],[6.995,3.88],[7.015,3.42],[7.035,3.63],[7.055,3.23],[7.075,3.79],[7.095,3.49],
[7.115,3.61],[7.135,3.34],[7.155,3.85],[7.175,3.46],[7.195,3.04],[7.215,3.73],[7.235,3.55],[7.255,3.18],[7.275,3.67],[7.295,3.91],
[7.315,3.29],[7.335,3.58],[7.355,3.76],[7.375,3.41],[7.395,3.94],[7.415,3.13],[7.435,3.62],[7.455,3.37],[7.475,3.81],[7.495,3.51],
[7.515,3.44],[7.535,3.69],[7.555,3.26],[7.575,3.86],[7.595,3.53],[7.615,3.15],[7.635,3.72],[7.655,3.39],[7.675,3.59],[7.695,3.82]
];

// Samples in the lower and upper fringes of the band
const residualsFringe = [
[0.33,2.58],[0.38,2.41],[0.44,2.62],[0.49,2.35],[0.53,2.51],[0.58,2.66],[0.62,2.44],[0.69,2.29],[0.72,2.55],[0.77,2.47],[0.84,2.38],[0.88,2.61],[0.93,2.27],[0.99,2.49],[1.04,2.63],[1.07,2.34],[1.11,2.57],[1.17,2.42],[1.21,2.19],[1.26,2.53],[1.31,2.45],[1.33,2.64],[1.39,2.36],[1.43,2.52],[1.47,2.21],
[1.51,2.38],[1.54,2.19],[1.56,2.57],[1.58,2.06],[1.61,2.45],[1.63,2.28],[1.66,2.61],[1.68,2.12],[1.71,2.36],[1.73,2.22],[1.76,2.54],[1.78,2.03],[1.81,2.47],[1.84,2.31],[1.86,2.63],[1.88,2.16],[1.91,2.41],[1.93,2.08],[1.95,2.55],[1.98,2.33],
[2.02,2.48],[2.04,2.14],[2.07,2.59],[2.09,2.37],[2.12,2.24],[2.14,2.52],[2.17,2.05],[2.19,2.43],[2.22,2.29],[2.25,2.58],[2.27,2.18],[2.3,2.46],[2.33,2.35],[2.35,2.09],[2.38,2.56],[2.4,2.27],[2.43,2.44],[2.46,2.13],[2.48,2.61],
[2.52,2.39],[2.55,2.21],[2.58,2.53],[2.61,2.34],[2.63,2.07],[2.66,2.49],[2.69,2.26],[2.72,2.57],[2.75,2.42],[2.77,2.15],[2.81,2.51],[2.84,2.32],[2.86,2.63],[2.89,2.45],[2.92,2.24],[2.95,2.56],[2.98,2.38],
[3.01,2.47],[3.04,2.28],[3.07,2.59],[3.09,2.12],[3.12,2.43],[3.15,2.33],[3.18,2.55],[3.21,2.41],[3.24,2.19],[3.27,2.52],[3.3,2.36],[3.33,2.61],[3.36,2.26],[3.38,2.48],[3.42,2.39],[3.45,2.17],[3.48,2.54],
[3.51,2.44],[3.54,2.29],[3.57,2.58],[3.6,2.41],[3.63,2.23],[3.66,2.51],[3.69,2.37],[3.72,2.62],[3.74,2.14],[3.77,2.46],[3.79,2.31],[3.82,2.55],[3.84,2.27],[3.87,2.43],[3.89,2.09],[3.92,2.58],[3.95,2.36],[3.97,2.49],
[4.0,2.21],[4.03,2.44],[4.05,2.33],[4.08,2.57],[4.11,2.18],[4.13,2.47],[4.16,2.35],[4.19,2.61],[4.22,2.26],[4.24,2.51],[4.27,2.39],[4.3,2.12],[4.33,2.46],[4.36,2.29],[4.39,2.55],[4.42,2.41],[4.45,2.19],[4.48,2.59],
[4.51,2.33],[4.55,2.52],[4.59,2.24],[4.64,2.61],[4.69,2.38],[4.74,2.46],[4.8,2.27],[4.86,2.55],[4.93,2.41],[4.99,2.58],[5.08,2.36],[5.18,2.52],[5.26,2.33],[5.45,2.55],
[5.53,2.47],[5.58,2.31],[5.63,2.58],[5.69,2.43],[5.73,2.22],[5.79,2.55],[5.83,2.36],[5.89,2.49],[5.93,2.17],[6.03,2.51],[6.07,2.33],[6.16,2.45],[6.21,2.27],[6.28,2.56],[6.35,2.41],[6.42,2.18],[6.46,2.52],[6.53,2.33],[6.61,2.47],[6.64,2.11],
[6.73,2.53],[6.82,2.26],[6.87,2.49],[6.95,2.37],[6.99,2.12],[7.06,2.43],[7.09,2.28],[7.17,2.51],[7.26,2.21],[7.33,2.55],[7.39,2.32],[7.45,2.49],[7.52,2.14],[7.59,2.44],[7.64,2.29],[7.7,2.48],[5.71,2.08],[6.19,1.97],[6.88,2.03],[7.45,2.06],
[0.34,4.62],[0.41,4.47],[0.46,4.78],[0.52,4.55],[0.57,4.69],[0.63,4.44],[0.68,4.81],[0.76,4.58],[0.83,4.49],[0.86,4.72],[0.94,4.61],[1.03,4.83],[1.07,4.66],[1.13,4.48],[1.19,4.71],[1.24,4.59],[1.29,4.86],[1.33,4.52],[1.37,4.68],[1.44,4.57],[1.47,4.79],
[1.52,4.49],[1.55,4.78],[1.57,4.62],[1.62,4.53],[1.64,4.85],[1.67,4.47],[1.71,4.68],[1.73,4.56],[1.78,4.87],[1.81,4.59],[1.83,4.45],[1.87,4.72],[1.91,4.54],[1.94,4.81],[1.97,4.63],
[2.01,4.48],[2.03,4.77],[2.06,4.58],[2.09,4.86],[2.12,4.52],[2.16,4.69],[2.18,4.47],[2.21,4.83],[2.25,4.61],[2.28,4.55],[2.32,4.74],[2.36,4.49],[2.39,4.88],[2.42,4.58],[2.46,4.67],
[2.51,4.51],[2.55,4.79],[2.59,4.62],[2.63,4.46],[2.67,4.73],[2.7,4.57],[2.73,4.84],[2.77,4.52],[2.8,4.69],[2.84,4.61],[2.87,4.88],[2.91,4.54],[2.94,4.72],[2.97,4.47],
[3.02,4.66],[3.05,4.83],[3.09,4.55],[3.13,4.63],[3.17,4.49],[3.21,4.76],[3.26,4.58],[3.29,4.68],[3.33,4.52],[3.36,4.86],[3.41,4.61],[3.44,4.47],[3.49,4.73],
[3.53,4.56],[3.56,4.81],[3.6,4.51],[3.64,4.67],[3.67,4.49],[3.71,4.78],[3.75,4.59],[3.78,4.71],[3.82,4.54],[3.85,4.87],[3.88,4.62],[3.92,4.48],[3.95,4.76],[3.99,4.57],
[4.02,4.68],[4.06,4.51],[4.09,4.84],[4.12,4.63],[4.16,4.47],[4.19,4.73],[4.23,4.59],[4.26,4.82],[4.31,4.53],[4.34,4.69],[4.38,4.48],[4.42,4.77],[4.46,4.61],
[4.52,4.83],[4.58,4.67],[4.66,4.55],[4.78,4.72],[4.85,4.61],[4.94,4.54],[5.06,4.68],[5.14,4.58],[5.22,4.73],[5.44,4.47],
[5.55,4.62],[5.61,4.51],[5.66,4.78],[5.72,4.58],[5.79,4.47],[5.83,4.69],[5.88,4.84],[5.94,4.55],[6.04,4.67],[6.13,4.49],[6.17,4.72],[6.23,4.54],[6.31,4.66],[6.36,4.85],[6.43,4.57],[6.49,4.71],[6.58,4.49],[6.61,4.83],
[6.72,4.62],[6.76,4.48],[6.84,4.67],[6.94,4.59],[6.98,4.81],[7.06,4.52],[7.13,4.64],[7.19,4.86],[7.22,4.49],[7.33,4.69],[7.36,4.78],[7.46,4.61],[7.52,4.72],[7.61,4.56],[7.68,4.64],[7.71,4.51]
];

// Samples well away from the fit, above and below the main band
const residualsHigh = [
[0.02,5.80],[0.17,5.67],[0.21,5.90],[0.22,5.75],[0.22,5.40],[0.25,5.25],[0.22,4.99],[0.15,5.06],[0.22,4.88],[0.30,4.85],[1.74,6.70],[1.74,6.45],[1.76,6.02],[0.96,5.61],[1.40,5.56],[1.82,5.54],[1.75,5.51],[1.76,5.35],[2.07,5.35],[1.75,5.22],[1.59,5.22],[1.90,5.28],[1.90,5.24],[1.87,5.17],[0.91,5.17],[1.21,5.17],[1.23,5.13],[1.40,5.01],[1.46,5.01],[0.99,5.01],[1.18,5.11],[1.27,5.11],[1.15,5.01],[1.60,4.97],[1.73,5.06],[1.76,5.05],[2.08,5.03],[2.07,4.91],[2.11,4.90],
[4.34,6.52],[2.92,5.50],[2.77,5.42],[2.93,5.31],[2.89,5.21],[2.82,5.13],[2.45,5.03],[2.57,4.97],[3.11,4.90],[4.14,5.56],[4.25,5.68],[4.43,5.71],[4.13,5.27],[4.14,5.23],[3.83,5.12],[3.82,5.02],[4.43,5.24],[4.09,5.09],[4.14,5.05],[4.14,4.95],[4.73,5.13],[4.39,4.95],[4.50,4.86],[4.89,4.91],[4.73,4.73],[3.47,4.88],[3.37,4.80],[2.24,4.72],[2.47,4.79],
[6.02,5.61],[6.10,5.60],[6.02,5.39],[5.96,5.27],[5.99,5.12],[5.91,5.02],[6.02,4.95],[5.86,4.79],[5.99,4.79],[5.03,5.12],[5.25,4.95],[5.46,5.02],[5.02,4.76],[5.37,4.76],[6.40,5.30],[6.45,5.19],[6.66,5.39],[6.67,5.05],[6.78,5.03],[6.51,4.94],[6.56,4.81],[6.90,5.24],[7.01,5.14],[7.09,5.15],[7.01,4.89],[7.27,5.37],[7.48,5.47],[7.43,5.28],[7.43,4.93],[7.47,4.83],[6.20,4.77],[6.69,4.75],[6.89,4.77],
[5.36,4.73],[5.47,4.64],[5.27,4.54],[5.32,4.50],[5.31,4.41],[5.17,4.29],[5.25,4.22],[5.40,4.25],[5.53,4.20],[5.91,4.33],[6.00,4.33],[6.08,4.59],[5.96,4.66],[5.91,4.50],[6.26,4.59],[6.39,4.46],[6.45,4.44],[6.56,4.62],[6.63,4.55],[6.65,4.73],[6.67,4.40],[6.79,4.55],[6.88,4.52],[6.91,4.43],[7.03,4.33],[7.10,4.73],[7.27,4.54],[7.30,4.57],[7.42,4.48],[7.54,4.59],[7.55,4.53],[7.66,4.47],[7.24,4.31],[7.38,4.22],[7.51,4.29],[7.57,4.20],
[0.70,4.87],[0.73,4.87],[0.71,4.73],[0.78,4.67],[0.97,4.75],[1.12,4.75],[1.15,4.79],[1.15,4.64],[1.40,4.76],[1.42,4.67],[1.49,4.90],[1.52,4.61],[1.59,4.73],[1.60,4.95],[1.60,4.87],[1.67,4.64],[1.69,4.94],[1.76,4.81],[1.85,4.87],[1.90,4.90],[1.98,4.75],[2.00,4.75],[2.13,4.92],[0.09,4.64],[0.09,4.59],[0.39,4.60],[0.41,4.70],[0.37,4.54],[0.95,4.53],[1.01,4.50],[1.05,4.52],[1.09,4.54],[1.22,4.55],[0.81,4.54],[0.67,4.52]
];

const residualsLow = [
[0.07,1.66],[0.07,1.40],[0.25,1.57],[0.25,1.97],[0.96,1.28],[0.96,1.02],[1.06,1.14],[1.01,1.76],[1.02,2.01],[1.05,1.92],[1.59,1.98],[1.82,1.82],[1.85,1.78],[1.99,1.97],[2.06,1.42],[2.14,1.75],
[2.57,0.75],[3.47,1.58],[3.17,1.73],[3.89,1.54],[4.09,1.71],[4.16,1.54],[4.26,1.47],[4.41,1.66],[4.45,1.72],[4.48,1.42],[4.45,1.04],[4.32,0.78],[4.45,0.45],[4.93,1.39],
[6.12,1.54],[6.12,1.52],[6.12,1.16],[6.12,1.09],[6.26,1.51],[6.27,1.54],[6.34,1.58],[6.71,1.18],[7.21,1.65],[7.29,1.52],[7.36,1.73],[7.37,1.68],[7.42,1.71],[7.49,1.53],
[4.54,1.83],[4.32,1.81],[5.04,1.81],[2.41,2.03],[2.41,2.14],[2.56,1.95],[2.73,2.01],[2.80,1.93],[2.53,2.13],[2.79,2.16],[2.91,2.09],[2.99,2.19],[2.99,2.08],[3.03,2.08],[3.22,2.15],[3.42,2.09],[3.87,2.03],[3.95,2.09],[4.04,2.16],[4.13,2.05],[4.17,2.02],[4.24,1.98],[4.24,1.95],[4.48,2.02],[4.91,2.09],[4.91,2.06],[5.04,2.06],[5.03,2.16],[4.96,2.16],
[2.51,2.31],[2.66,2.27],[2.73,2.25],[2.67,2.37],[2.95,2.35],[3.40,2.30],[3.40,2.37],[3.50,2.35],[3.61,2.33],[3.61,2.27],[3.86,2.42],[3.93,2.21],[3.94,2.27],[4.02,2.28],[4.03,2.38],[4.21,2.38],[4.14,2.43],[4.46,2.28],[4.48,2.28],[4.62,2.37],[4.62,2.20],[4.67,2.19],[4.76,2.30],[4.76,2.24],[4.90,2.12],[4.95,2.30],[4.83,2.42],[4.97,2.41],[5.03,2.28],[5.14,2.48],
[0.06,2.17],[0.18,2.27],[0.17,2.33],[0.27,2.26],[0.19,2.45],[0.19,2.53],[0.26,2.53],[0.26,2.65],[0.06,2.56],[0.06,2.63],[0.05,2.75],[0.04,2.82],[0.67,2.16],[0.80,2.37],[0.80,2.15],[0.82,2.12],[1.02,2.21],[1.08,2.26],[1.35,2.30],[1.36,2.43],[1.44,2.27],[1.55,2.42],[1.53,2.12],[1.57,2.17],[1.74,2.39],[1.83,1.79],[1.94,2.30],[2.01,2.19],[2.13,2.17],[2.08,2.09],[2.19,2.24],[2.21,2.40],[2.31,2.50],[2.41,2.05],
[5.62,2.37],[5.98,2.24],[6.13,2.12],[6.15,2.08],[6.56,2.02],[6.60,2.02],[6.53,1.82],[7.03,2.15],[7.03,2.09],[7.22,2.04],[7.42,1.98],[7.41,1.90],[7.53,1.93],[7.62,1.83],[7.30,2.10],[7.19,1.83],[6.77,2.09],[6.67,2.28],[6.71,2.23],[6.57,2.20],[6.50,2.37],[6.84,2.39],[7.01,2.34],[7.12,2.19],[7.23,2.35],[7.30,2.39],[7.47,2.23],[7.67,2.54],[7.36,2.46],[7.50,2.41],[7.15,2.61],[7.04,2.50],[6.92,2.61],[6.79,2.63],[6.74,2.76],[6.57,2.50],[6.37,2.54],[6.33,2.61],[6.24,2.59],[6.32,2.77],[5.96,2.42],[5.84,2.64],[5.94,2.81],[6.09,2.84],[5.78,2.96],[5.64,2.92],[5.47,2.78],[5.41,2.48],[5.37,2.46],[5.34,2.64],[5.34,2.78],[5.05,2.06],[7.62,2.65],[7.66,2.57],[7.66,2.89],[7.72,2.89],[7.69,3.05],[7.41,2.81],[7.57,2.75],
[5.44,1.93],[5.68,1.86],[5.74,1.97],[5.55,2.15],[5.88,2.19]
];

// Linear fit through the residuals (end points) and the observable estimate
const fitTime = [0, 7.72];
const fitBias = [3.595, 3.43];
const observableTime = [3.86];
const observableBias = [3.515];

// Axis ticks and labels
const xTicks = [0, 1, 2, 3, 4, 5, 6, 7, 8];
const yTicks = [0, 1, 2, 3, 4, 5, 6, 7];
const legendLabels = ["Downlink Residual", "Linear Fit", "Downlink Observable"];
const xTitle = "Time since epoch (min)";
const yTitle = "Bias (µs)";

const residuals = [].concat(residualsEarly, residualsMid, residualsLate,
  residualsSparse, residualsTail, residualsCore, residualsFringe,
  residualsHigh, residualsLow);

const svg = d3.select("#chart");
const plot = { left: 53, right: 729, top: 18, bottom: 527 };
const axisColor = "#4d4d4d";
const tickLen = 7;

const x = d3.scaleLinear().domain([0, 8]).range([plot.left, plot.right]);
const y = d3.scaleLinear().domain([0, 7]).range([plot.bottom, plot.top]);

svg.append("rect").attr("width", 733).attr("height", 582).attr("fill", "#fff");

// Residual samples: small round dots
const dotRadius = 1.7;
svg.append("g").selectAll("circle")
  .data(residuals)
  .join("circle")
  .attr("cx", d => Math.round(x(d[0])) + 0.5)
  .attr("cy", d => Math.round(y(d[1])) + 0.5)
  .attr("r", dotRadius)
  .attr("fill", "#0000ff");

// Linear fit
const fitLine = d3.line().x(d => x(d[0])).y(d => y(d[1]));
svg.append("path")
  .datum(fitTime.map((t, i) => [t, fitBias[i]]))
  .attr("d", fitLine)
  .attr("fill", "none")
  .attr("stroke", "#00ff00")
  .attr("stroke-width", 4);

// Observable marker
function drawCross(g, cx, cy, r, w) {
  g.append("path")
    .attr("d", `M${cx - r},${cy - r}L${cx + r},${cy + r}M${cx - r},${cy + r}L${cx + r},${cy - r}`)
    .attr("stroke", "#ff0000")
    .attr("stroke-width", w)
    .attr("stroke-linecap", "round")
    .attr("fill", "none");
}
observableTime.forEach((t, i) => drawCross(svg, x(t), y(observableBias[i]), 5.5, 4.5));

// Axes: ticks inward on all four sides
const fontSize = 19;
const bottomAxis = d3.axisBottom(x).tickValues(xTicks).tickSize(-tickLen).tickPadding(10).tickFormat(d3.format("d"));
const leftAxis = d3.axisLeft(y).tickValues(yTicks).tickSize(-tickLen).tickPadding(5).tickFormat(d3.format("d"));
const topAxis = d3.axisTop(x).tickValues(xTicks).tickSize(-tickLen).tickFormat("");
const rightAxis = d3.axisRight(y).tickValues(yTicks).tickSize(-tickLen).tickFormat("");

function styleAxis(g) {
  g.selectAll("path.domain").attr("stroke", axisColor).attr("stroke-width", 1.3);
  g.selectAll(".tick line").attr("stroke", axisColor).attr("stroke-width", 1.3);
  g.selectAll(".tick text").attr("fill", "#000").style("font-size", fontSize + "px")
    .style("font-family", '"DejaVu Sans", sans-serif');
}
svg.append("g").attr("transform", `translate(0,${plot.bottom})`).call(bottomAxis).call(styleAxis);
svg.append("g").attr("transform", `translate(${plot.left},0)`).call(leftAxis).call(styleAxis);
svg.append("g").attr("transform", `translate(0,${plot.top})`).call(topAxis).call(styleAxis);
svg.append("g").attr("transform", `translate(${plot.right},0)`).call(rightAxis).call(styleAxis);

// Axis titles
svg.append("text")
  .attr("x", (plot.left + plot.right) / 2 + 7)
  .attr("y", 578)
  .attr("text-anchor", "middle")
  .style("font-size", "19.5px")
  .text(xTitle);
svg.append("text")
  .attr("transform", `translate(28,${(plot.top + plot.bottom) / 2}) rotate(-90)`)
  .attr("text-anchor", "middle")
  .style("font-size", "19px")
  .text(yTitle);

// Legend
const legend = svg.append("g");
legend.append("rect")
  .attr("x", 468.5).attr("y", 26.5).attr("width", 254).attr("height", 84)
  .attr("fill", "#fff").attr("stroke", "#4d4d4d").attr("stroke-width", 1);
const rowY = [43, 71, 98];
legendLabels.forEach((label, i) => {
  legend.append("text")
    .attr("x", 525).attr("y", rowY[i])
    .attr("dy", "0.35em")
    .style("font-size", "18px")
    .text(label);
});
legend.append("circle").attr("cx", 497.5).attr("cy", rowY[0] + 0.5).attr("r", 1.5).attr("fill", "#0000ff");
legend.append("circle").attr("cx", 497.5).attr("cy", rowY[1] + 0.5).attr("r", 1.5).attr("fill", "#00ff00");
drawCross(legend, 497, rowY[2], 5.5, 4.5);
</script>
</body>
</html>
